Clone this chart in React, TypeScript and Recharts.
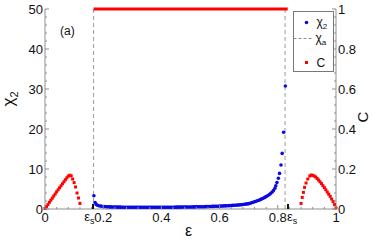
import React from 'react'
import { ComposedChart, Scatter, XAxis, YAxis, ReferenceLine } from 'recharts'

const FONT = '"Liberation Sans", Arial, Helvetica, sans-serif'
const AXIS = '#8f8f8f'
const RED = '#ff0000'
const BLUE = '#0a0ae6'

// tick labels
const epsMajor = [0, 0.2, 0.4, 0.6, 0.8, 1]
const epsS = [0.165, 0.835]
const chiMajor = [0, 10, 20, 30, 40, 50]
const cMajor = [0, 0.2, 0.4, 0.6, 0.8, 1]

// chi_a asymptotes (dashed)
const chiA = [0.167, 0.825]

// chi_2 points [eps, chi2]
const chi2Points: [number, number][] = [
  [0.168, 3.3], [0.172, 1.6], [0.176, 1.15], [0.18, 0.95], [0.185, 0.82], [0.19, 0.74], [0.195, 0.68],
  [0.2, 0.64], [0.205, 0.61], [0.21, 0.58], [0.215, 0.56], [0.22, 0.54], [0.225, 0.52], [0.23, 0.51],
  [0.235, 0.5], [0.24, 0.49], [0.245, 0.48], [0.25, 0.47], [0.255, 0.465], [0.26, 0.46], [0.265, 0.455],
  [0.27, 0.45], [0.275, 0.445], [0.28, 0.44], [0.285, 0.435], [0.29, 0.43], [0.295, 0.43], [0.3, 0.43],
  [0.305, 0.425], [0.31, 0.42], [0.315, 0.42], [0.32, 0.42], [0.325, 0.42], [0.33, 0.42], [0.335, 0.42],
  [0.34, 0.42], [0.345, 0.42], [0.35, 0.42], [0.355, 0.42], [0.36, 0.42], [0.365, 0.42], [0.37, 0.42],
  [0.375, 0.42], [0.38, 0.42], [0.385, 0.425], [0.39, 0.43], [0.395, 0.43], [0.4, 0.43], [0.405, 0.435],
  [0.41, 0.44], [0.415, 0.44], [0.42, 0.44], [0.425, 0.445], [0.43, 0.45], [0.435, 0.45], [0.44, 0.45],
  [0.445, 0.455], [0.45, 0.46], [0.455, 0.465], [0.46, 0.47], [0.465, 0.475], [0.47, 0.48], [0.475, 0.485],
  [0.48, 0.49], [0.485, 0.495], [0.49, 0.5], [0.495, 0.505], [0.5, 0.51], [0.505, 0.515], [0.51, 0.52],
  [0.515, 0.53], [0.52, 0.54], [0.525, 0.545], [0.53, 0.55], [0.535, 0.56], [0.54, 0.57], [0.545, 0.58],
  [0.55, 0.59], [0.555, 0.6], [0.56, 0.61], [0.565, 0.62], [0.57, 0.63], [0.575, 0.645], [0.58, 0.66],
  [0.585, 0.67], [0.59, 0.68], [0.595, 0.695], [0.6, 0.71], [0.605, 0.73], [0.61, 0.75], [0.615, 0.77],
  [0.62, 0.79], [0.625, 0.81], [0.63, 0.83], [0.635, 0.855], [0.64, 0.88], [0.645, 0.905], [0.65, 0.93],
  [0.655, 0.955], [0.66, 0.98], [0.665, 1.01], [0.67, 1.04], [0.675, 1.08], [0.68, 1.12], [0.685, 1.17],
  [0.69, 1.22], [0.695, 1.28], [0.7, 1.34], [0.705, 1.44], [0.71, 1.55], [0.715, 1.67], [0.72, 1.8],
  [0.725, 1.92], [0.73, 2.05], [0.735, 2.2], [0.74, 2.35], [0.745, 2.52], [0.75, 2.7], [0.755, 2.9],
  [0.76, 3.1], [0.765, 3.32], [0.77, 3.55], [0.775, 3.85], [0.78, 4.2], [0.785, 4.6], [0.79, 5.2],
  [0.793, 5.8], [0.797, 6.6], [0.802, 7.7], [0.806, 8.9], [0.811, 11], [0.815, 13.9], [0.82, 19.2],
  [0.826, 30.75],
]

// C points outside the plateau [eps, C]
const cLeft: [number, number][] = [
  [0, 0.003], [0.005, 0.012], [0.01, 0.022], [0.015, 0.033], [0.02, 0.044], [0.025, 0.054],
  [0.03, 0.065], [0.035, 0.075], [0.04, 0.086], [0.045, 0.096], [0.05, 0.106], [0.055, 0.116],
  [0.06, 0.126], [0.065, 0.136], [0.07, 0.146], [0.075, 0.156], [0.08, 0.164], [0.085, 0.169],
  [0.09, 0.166], [0.095, 0.15], [0.1, 0.132], [0.105, 0.11], [0.11, 0.08], [0.115, 0.055], [0.12, 0.028],
]
const cRight: [number, number][] = [
  [0.88, 0.028], [0.884, 0.058], [0.888, 0.083], [0.892, 0.108], [0.897, 0.13], [0.903, 0.15],
  [0.91, 0.165], [0.915, 0.17], [0.92, 0.168], [0.925, 0.165], [0.93, 0.16], [0.935, 0.153],
  [0.94, 0.145], [0.945, 0.136], [0.95, 0.127], [0.955, 0.117], [0.96, 0.107], [0.965, 0.096],
  [0.97, 0.085], [0.975, 0.074], [0.98, 0.063], [0.985, 0.05], [0.99, 0.037], [0.995, 0.022], [1, 0.005],
]
// C = 1 plateau between the two epsilon_s
const cPlateau: [number, number][] = [[0.167, 1], [0.834, 1]]

const toRows = (pts: [number, number][]) => pts.map(([e, v]) => ({ e, v }))

const steps = (hi: number, n: number) => {
  const out: number[] = []
  for (let i = 0; i <= n; i++) out.push(Math.round((hi * i / n) * 10000) / 10000)
  return out
}
const epsTicks = steps(1, 25)
const chiTicks = steps(50, 25)
const cTicks = steps(1, 25)
const isIn = (arr: number[], v: number) => arr.some(a => Math.abs(a - v) < 1e-6)

function LeftTick(p: any) {
  const { x, y, payload } = p
  const major = isIn(chiMajor, payload.value)
  return (
    <g>
      <line x1={x} x2={x + (major ? 4 : 2)} y1={y} y2={y} stroke={AXIS} />
      {major && (
        <text x={x - 2} y={y} dy="0.35em" textAnchor="end" fontSize={13} fontFamily={FONT} fill="#111">
          {payload.value}
        </text>
      )}
    </g>
  )
}

function RightTick(p: any) {
  const { x, y, payload } = p
  const major = isIn(cMajor, payload.value)
  return (
    <g>
      <line x1={x} x2={x - (major ? 4 : 2)} y1={y} y2={y} stroke={AXIS} />
      {major && (
        <text x={x + 2} y={y} dy="0.35em" textAnchor="start" fontSize={13} fontFamily={FONT} fill="#111">
          {payload.value}
        </text>
      )}
    </g>
  )
}

function BottomTick(p: any) {
  const { x, y, payload } = p
  const v = payload.value
  if (isIn(epsS, v)) {
    const left = v < 0.5
    return (
      <g>
        <rect x={x - 1} y={y - 5} width={2} height={5} fill="#111" />
        <text x={left ? x + 1.5 : x - 1} y={y + 12} textAnchor={left ? 'end' : 'start'} fontSize={13} fontFamily={FONT} fill="#111">
          ε<tspan fontSize={9} dy={3}>s</tspan>
        </text>
      </g>
    )
  }
  const major = isIn(epsMajor, v)
  return (
    <g>
      <line x1={x} x2={x} y1={y} y2={y - (major ? 4 : 2)} stroke={AXIS} />
      {major && (
        <text x={x} y={y + 13} textAnchor="middle" fontSize={13} fontFamily={FONT} fill="#111">
          {v}
        </text>
      )}
    </g>
  )
}

function TopTick(p: any) {
  const { x, y, payload } = p
  const major = isIn(epsMajor, payload.value)
  return <line x1={x} x2={x} y1={y} y2={y + (major ? 4 : 2)} stroke={AXIS} />
}

const ChiLabel = (p: any) => {
  const vb = p.viewBox
  const cx = vb.x + 14
  const cy = vb.y + vb.height / 2 - 10
  return (
    <text x={cx} y={cy} transform={`rotate(-90, ${cx}, ${cy})`} textAnchor="middle" fontSize={17} fontFamily={FONT} fill="#111">
      χ<tspan fontSize={11} dy={4}>2</tspan>
    </text>
  )
}

const CLabel = (p: any) => {
  const vb = p.viewBox
  const cx = vb.x + 32
  const cy = vb.y + vb.height / 2 + 8
  return (
    <text x={cx} y={cy} transform={`rotate(-90, ${cx}, ${cy})`} textAnchor="middle" fontSize={15} fontFamily={FONT} fill="#111">
      C
    </text>
  )
}

const EpsLabel = (p: any) => {
  const vb = p.viewBox
  return (
    <text x={vb.x + vb.width / 2 - 2} y={vb.y + 27} textAnchor="middle" fontSize={16} fontFamily={FONT} fill="#111">
      ε
    </text>
  )
}

const BlueDot = (p: any) => <circle cx={p.cx} cy={p.cy} r={1.8} fill={BLUE} />
const RedDot = (p: any) => <rect x={p.cx - 1.5} y={p.cy - 1.5} width={3} height={3} fill={RED} />
const NoDot = () => <g />

export default function App() {
  return (
    <div style={{ position: 'relative', width: 374, height: 241, fontFamily: FONT }}>
      <style>{'body{margin:0}'}</style>
      <ComposedChart width={374} height={241} margin={{ top: 9, right: 0, bottom: 0, left: 0 }}>
        <XAxis dataKey="e" type="number" domain={[0, 1]} ticks={[...epsTicks, ...epsS]} interval={0}
          tickSize={0} tickMargin={0} tick={BottomTick} axisLine={{ stroke: AXIS }} height={32} label={EpsLabel} />
        <XAxis xAxisId="top" orientation="top" type="number" domain={[0, 1]} ticks={epsTicks} interval={0}
          tickSize={0} tickMargin={0} tick={TopTick} axisLine={{ stroke: AXIS }} height={0} />
        <YAxis yAxisId="chi" type="number" domain={[0, 50]} ticks={chiTicks} interval={0} width={45}
          tickSize={0} tickMargin={0} tick={LeftTick} axisLine={{ stroke: AXIS }} label={ChiLabel} />
        <YAxis yAxisId="c" orientation="right" type="number" domain={[0, 1]} ticks={cTicks} interval={0} width={38}
          tickSize={0} tickMargin={0} tick={RightTick} axisLine={{ stroke: AXIS }} label={CLabel} />
        {chiA.map(e => (
          <ReferenceLine key={e} yAxisId="chi" x={e} stroke="#9a9a9a" strokeDasharray="4 3" />
        ))}
        <Scatter yAxisId="c" data={toRows(cPlateau)} dataKey="v" line={{ stroke: RED, strokeWidth: 3 }}
          shape={NoDot} isAnimationActive={false} />
        <Scatter yAxisId="c" data={toRows(cLeft)} dataKey="v" shape={RedDot} isAnimationActive={false} />
        <Scatter yAxisId="c" data={toRows(cRight)} dataKey="v" shape={RedDot} isAnimationActive={false} />
        <Scatter yAxisId="chi" data={toRows(chi2Points)} dataKey="v" shape={BlueDot} isAnimationActive={false} />
      </ComposedChart>
      <svg width={374} height={241} style={{ position: 'absolute', left: 0, top: 0, pointerEvents: 'none' }}>
        <text x={60} y={35} fontSize={12} fontFamily={FONT} fill="#111">(a)</text>
        <g transform="translate(293.5, 11.5)">
          <rect x={0} y={0} width={40} height={60} fill="#fff" stroke="#777" />
          <circle cx={13} cy={11} r={1.8} fill={BLUE} />
          <text x={23} y={14.5} fontSize={12} fontFamily={FONT} fill="#111">
            χ<tspan fontSize={8} dy={3}>2</tspan>
          </text>
          <line x1={0} x2={20} y1={27} y2={27} stroke="#8a8a8a" strokeDasharray="3 2" />
          <text x={22} y={30.5} fontSize={12} fontFamily={FONT} fill="#111">
            χ<tspan fontSize={8} dy={3}>a</tspan>
          </text>
          <rect x={11.5} y={49.5} width={3} height={3} fill={RED} />
          <text x={23} y={55.5} fontSize={12} fontFamily={FONT} fill="#111">C</text>
        </g>
      </svg>
    </div>
  )
}
